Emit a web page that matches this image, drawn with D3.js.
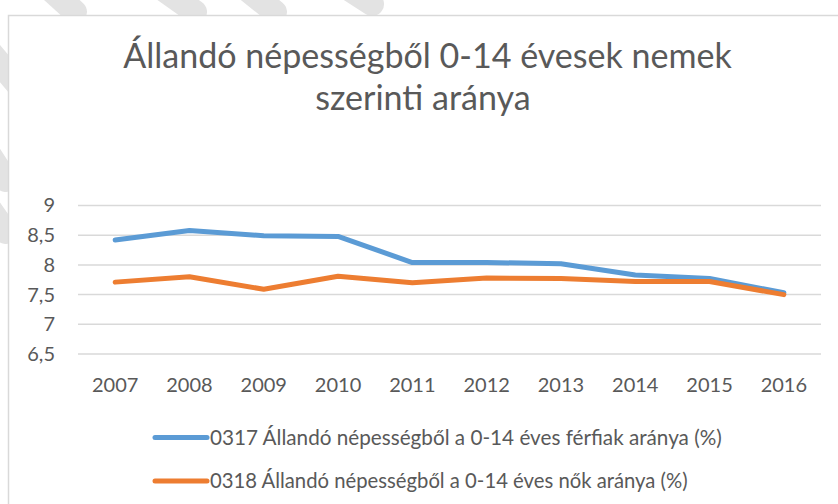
<!DOCTYPE html>
<html>
<head>
<meta charset="utf-8">
<script src="https://cdn.jsdelivr.net/npm/d3@7"></script>
<style>
  html, body { margin: 0; padding: 0; background: #fff; }
  svg { display: block; }
  text { font-family: Lato, "Open Sans", sans-serif; fill: #595959; }
</style>
</head>
<body>
<svg id="chart" width="838" height="504"></svg>
<script>
// ---- data ----
const years = ["2007","2008","2009","2010","2011","2012","2013","2014","2015","2016"];
const maleValues   = [8.42, 8.58, 8.49, 8.48, 8.04, 8.04, 8.02, 7.83, 7.77, 7.53];
const femaleValues = [7.71, 7.80, 7.59, 7.81, 7.70, 7.78, 7.77, 7.72, 7.72, 7.50];
const yTicks = [6.5, 7, 7.5, 8, 8.5, 9];
const seriesNames = [
  "0317 Állandó népességből a 0-14 éves férfiak aránya (%)",
  "0318 Állandó népességből a 0-14 éves nők aránya (%)"
];
const seriesColors = ["#5B9BD5", "#ED7D31"];
const titleLines = ["Állandó népességből 0-14 évesek nemek", "szerinti aránya"];

const svg = d3.select("#chart");

// faint background streaks (outside chart frame)
const streaks = [
  [[40,-20],[75,12]], [[150,-20],[195,12]], [[235,-20],[275,12]], [[335,-20],[372,4]],
  [[-20,40],[18,85]], [[-20,140],[6,180]], [[-20,195],[6,232]]
];
svg.append("g").selectAll("line").data(streaks).join("line")
  .attr("x1", d => d[0][0]).attr("y1", d => d[0][1])
  .attr("x2", d => d[1][0]).attr("y2", d => d[1][1])
  .attr("stroke", "#e3e3e3").attr("stroke-width", 24).attr("stroke-linecap", "round");

// chart frame
svg.append("rect").attr("x", 8.5).attr("y", 15.5).attr("width", 860).attr("height", 520)
  .attr("fill", "#fff").attr("stroke", "#d9d9d9").attr("stroke-width", 1.5);

// title
function fit(sel, target) {
  const w = sel.node().getComputedTextLength();
  const fs = parseFloat(sel.attr("font-size"));
  sel.attr("font-size", fs * target / w);
}
const t1 = svg.append("text").attr("x", 427.5).attr("y", 68).attr("text-anchor", "middle")
  .attr("font-size", 32).text(titleLines[0]);
fit(t1, 609);
const t2 = svg.append("text").attr("x", 423).attr("y", 110).attr("text-anchor", "middle")
  .attr("font-size", t1.attr("font-size")).text(titleLines[1]);

// scales
const x = d3.scaleBand().domain(years).range([78, 821]).padding(0);
const y = d3.scaleLinear().domain([6.5, 9]).range([354, 205.5]);

// gridlines
svg.append("g").selectAll("line").data(yTicks).join("line")
  .attr("x1", 78).attr("x2", 821)
  .attr("y1", d => y(d)).attr("y2", d => y(d))
  .attr("stroke", "#d9d9d9").attr("stroke-width", 1.5);

// y axis labels
const fmt = d => String(d).replace(".", ",");
const yAxis = svg.append("g").attr("transform", "translate(70,0)")
  .call(d3.axisLeft(y).tickValues(yTicks).tickFormat(fmt).tickSize(0).tickPadding(15));
yAxis.select(".domain").remove();
yAxis.selectAll("text").attr("font-size", 20).attr("fill", "#595959")
  .style("font-family", "Lato, 'Open Sans', sans-serif");

// x axis labels
const xAxis = svg.append("g").attr("transform", "translate(0,378)")
  .call(d3.axisBottom(x).tickSize(0).tickPadding(0));
xAxis.select(".domain").remove();
xAxis.selectAll("text").attr("font-size", 20).attr("fill", "#595959").attr("dy", "0.71em")
  .style("font-family", "Lato, 'Open Sans', sans-serif");

// lines
const line = d3.line().x((d, i) => x(years[i]) + x.bandwidth() / 2).y(d => y(d));
[maleValues, femaleValues].forEach((vals, i) => {
  svg.append("path").datum(vals).attr("d", line)
    .attr("fill", "none").attr("stroke", seriesColors[i]).attr("stroke-width", 5)
    .attr("stroke-linejoin", "round").attr("stroke-linecap", "round");
});

// legend
const legY = [437.5, 481];
seriesNames.forEach((name, i) => {
  svg.append("line").attr("x1", 155).attr("x2", 207).attr("y1", legY[i]).attr("y2", legY[i])
    .attr("stroke", seriesColors[i]).attr("stroke-width", 5).attr("stroke-linecap", "round");
  const lt = svg.append("text").attr("x", 210).attr("y", legY[i] + 7)
    .attr("font-size", 19).text(name);
  fit(lt, i === 0 ? 512 : 478);
});
</script>
</body>
</html>
